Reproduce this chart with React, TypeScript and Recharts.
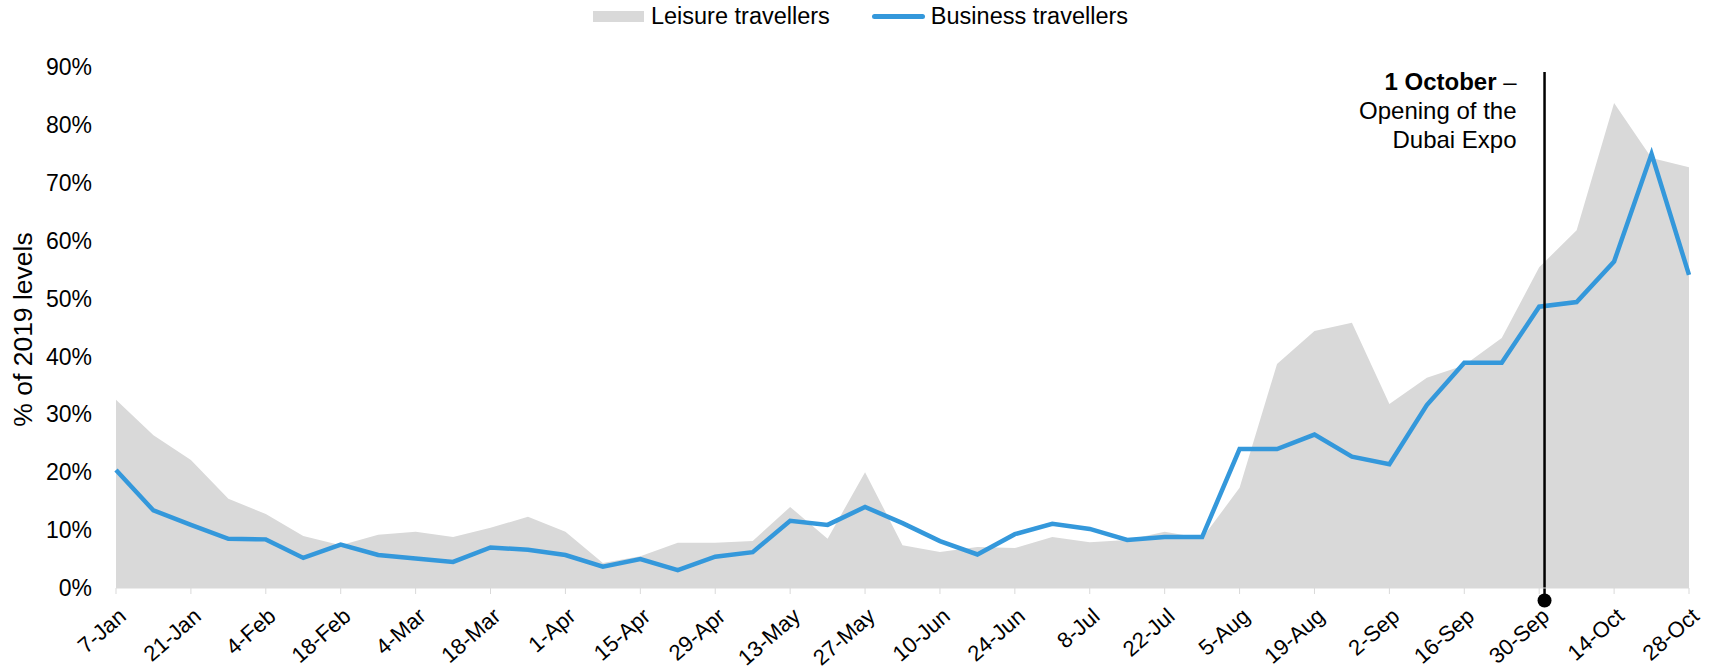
import React from "react";
import {
  ComposedChart,
  Area,
  Line,
  XAxis,
  YAxis,
  Legend,
  ReferenceLine,
} from "recharts";

const BLUE = "#3498db";
const GREY = "#d9d9d9";
const FONT = "'Liberation Sans', Arial, sans-serif";

// weekly, 2021
const weeks = [
  "7-Jan", "14-Jan", "21-Jan", "28-Jan", "4-Feb", "11-Feb", "18-Feb", "25-Feb",
  "4-Mar", "11-Mar", "18-Mar", "25-Mar", "1-Apr", "8-Apr", "15-Apr", "22-Apr",
  "29-Apr", "6-May", "13-May", "20-May", "27-May", "3-Jun", "10-Jun", "17-Jun",
  "24-Jun", "1-Jul", "8-Jul", "15-Jul", "22-Jul", "29-Jul", "5-Aug", "12-Aug",
  "19-Aug", "26-Aug", "2-Sep", "9-Sep", "16-Sep", "23-Sep", "30-Sep", "7-Oct",
  "14-Oct", "21-Oct", "28-Oct",
];

// % of 2019 levels
const leisure = [
  32.5, 26.4, 22.1, 15.4, 12.8, 9.0, 7.4, 9.2, 9.7, 8.8, 10.4, 12.3, 9.7, 4.3,
  5.5, 7.8, 7.8, 8.1, 14.0, 8.5, 20.0, 7.4, 6.2, 7.1, 6.9, 8.8, 7.9, 8.3, 9.7,
  8.6, 17.3, 38.7, 44.4, 45.8, 31.8, 36.3, 38.5, 43.2, 55.4, 61.8, 83.8, 74.3,
  72.7,
];

const business = [
  20.4, 13.4, 10.9, 8.5, 8.4, 5.2, 7.5, 5.7, 5.1, 4.5, 7.0, 6.6, 5.7, 3.7, 5.0,
  3.1, 5.4, 6.2, 11.6, 10.9, 14.0, 11.2, 8.1, 5.8, 9.3, 11.1, 10.2, 8.3, 8.8,
  8.8, 24.0, 24.0, 26.5, 22.7, 21.4, 31.6, 38.9, 38.9, 48.6, 49.4, 56.4, 75.0,
  54.1,
];

const yTicks = [0, 10, 20, 30, 40, 50, 60, 70, 80, 90];
const xTicks = weeks.map((_, i) => i).filter((i) => i % 2 === 0);

// 1 October = one day after the 30-Sep week
const expoWeek = weeks.indexOf("30-Sep") + 1 / 7;

const data = weeks.map((week, i) => ({
  idx: i,
  week,
  leisure: leisure[i],
  business: business[i],
}));

const WeekTick = (props: any) => {
  const { x, y, payload } = props;
  return (
    <g transform={`translate(${x + 6.5},${y + 18.5})`}>
      <text
        textAnchor="end"
        dy="0.35em"
        transform="rotate(-41)"
        fontSize={22}
        fill="#000"
      >
        {weeks[payload.value]}
      </text>
    </g>
  );
};

const ExpoMarker = (props: any) => {
  const { x1, y1, y2 } = props;
  const top = Math.min(y1, y2);
  const bottom = Math.max(y1, y2);
  const tx = x1 - 28;
  return (
    <g>
      <line
        x1={x1}
        x2={x1}
        y1={top + 5}
        y2={bottom + 12}
        stroke="#000"
        strokeWidth={2.5}
      />
      <circle cx={x1} cy={bottom + 12.5} r={7} fill="#000" />
      <text
        x={tx}
        y={top + 15}
        dy="0.35em"
        textAnchor="end"
        fontSize={24}
        fill="#000"
      >
        <tspan fontWeight="bold">1 October</tspan>
        <tspan>{" \u2013"}</tspan>
        <tspan x={tx} dy={29}>
          Opening of the
        </tspan>
        <tspan x={tx} dy={29}>
          Dubai Expo
        </tspan>
      </text>
    </g>
  );
};

const LegendContent = () => (
  <div
    style={{
      display: "flex",
      justifyContent: "center",
      alignItems: "center",
      height: 32,
      fontSize: 23.5,
      color: "#000",
      paddingLeft: 8,
    }}
  >
    <span
      style={{
        display: "inline-block",
        width: 51,
        height: 11,
        background: GREY,
        marginRight: 7,
      }}
    />
    <span>Leisure travellers</span>
    <span
      style={{
        display: "inline-block",
        width: 53,
        height: 5,
        borderRadius: 2.5,
        background: BLUE,
        marginLeft: 42,
        marginRight: 6,
      }}
    />
    <span>Business travellers</span>
  </div>
);

const AxisTitle = (props: any) => {
  const { viewBox } = props;
  const cy = viewBox.y + viewBox.height / 2 + 2;
  return (
    <text
      x={23}
      y={cy}
      dy="0.35em"
      textAnchor="middle"
      transform={`rotate(-90, 23, ${cy})`}
      fontSize={26.5}
      fill="#000"
    >
      % of 2019 levels
    </text>
  );
};

export default function App() {
  return (
    <div
      style={{
        position: "absolute",
        left: 0,
        top: 0,
        width: 1713,
        height: 670,
        background: "#fff",
        fontFamily: FONT,
      }}
    >
      <ComposedChart
        width={1713}
        height={670}
        data={data}
        margin={{ top: 67, right: 24, bottom: 0, left: 0 }}
        style={{ fontFamily: FONT }}
      >
        <XAxis
          dataKey="idx"
          type="number"
          domain={[0, weeks.length - 1]}
          ticks={xTicks}
          interval={0}
          height={82}
          tickSize={6}
          tickMargin={0}
          axisLine={{ stroke: GREY }}
          tickLine={{ stroke: GREY }}
          tick={<WeekTick />}
        />
        <YAxis
          domain={[0, 90]}
          ticks={yTicks}
          width={116}
          axisLine={false}
          tickLine={false}
          tickSize={0}
          tickMargin={24}
          tickFormatter={(v: number) => `${v}%`}
          tick={{ fontSize: 23, fill: "#000" }}
          label={{ content: <AxisTitle /> }}
        />
        <Legend
          layout="horizontal"
          verticalAlign="middle"
          align="center"
          wrapperStyle={{ top: 0, left: 0, width: 1713 }}
          content={<LegendContent />}
        />
        <Area
          type="linear"
          dataKey="leisure"
          name="Leisure travellers"
          fill={GREY}
          fillOpacity={1}
          stroke="none"
          isAnimationActive={false}
        />
        <Line
          type="linear"
          dataKey="business"
          name="Business travellers"
          stroke={BLUE}
          strokeWidth={4.5}
          dot={false}
          activeDot={false}
          isAnimationActive={false}
        />
        <ReferenceLine x={expoWeek} shape={<ExpoMarker />} />
      </ComposedChart>
    </div>
  );
}
